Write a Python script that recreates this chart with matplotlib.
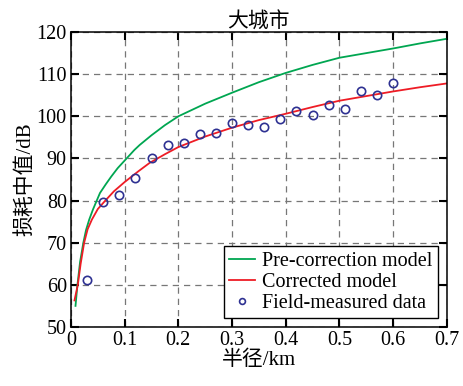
import numpy as np
import matplotlib
matplotlib.use("Agg")
import matplotlib.pyplot as plt

plt.rcParams['font.family'] = ['Liberation Serif', 'Noto Sans CJK SC', 'DejaVu Sans']

# measured points
meas_x = [0.03, 0.06, 0.09, 0.12, 0.15, 0.18, 0.21, 0.24, 0.27, 0.30,
          0.33, 0.36, 0.39, 0.42, 0.45, 0.48, 0.51, 0.54, 0.57, 0.60]
meas_y = [61.1, 79.7, 81.2, 85.4, 90.0, 93.3, 93.6, 95.7, 96.0, 98.3,
          98.0, 97.4, 99.4, 101.3, 100.4, 102.7, 101.7, 105.9, 105.0, 107.8]

# pre-correction model
pre_x = [0.0084, 0.012, 0.017, 0.023, 0.028, 0.034, 0.041, 0.048, 0.054, 0.065,
         0.075, 0.087, 0.1, 0.118, 0.128, 0.15, 0.175, 0.2, 0.25, 0.3, 0.35,
         0.4, 0.45, 0.5, 0.55, 0.6, 0.65, 0.7]
pre_y = [55.0, 60.0, 65.5, 70.0, 73.0, 75.5, 77.9, 80.0, 81.8, 83.9,
         85.7, 87.7, 89.5, 92.0, 93.2, 95.5, 97.9, 100.0, 103.0, 105.6, 108.1,
         110.3, 112.2, 113.9, 115.0, 116.1, 117.3, 118.4]

# corrected model
cor_x = [0.0065, 0.0127, 0.018, 0.0245, 0.031, 0.039, 0.05, 0.064, 0.08, 0.1,
         0.125, 0.146, 0.175, 0.2, 0.25, 0.3, 0.35, 0.4, 0.45, 0.5, 0.55,
         0.6, 0.65, 0.7]
cor_y = [56.3, 60.0, 65.0, 70.0, 73.2, 75.5, 78.0, 80.0, 82.2, 84.4,
         86.9, 88.9, 91.0, 92.7, 95.2, 97.3, 99.1, 100.6, 102.2, 103.7, 104.8,
         105.9, 106.9, 107.8]

fig = plt.figure(figsize=(4.64, 3.86), dpi=100)
ax = fig.add_axes([0.153, 0.153, 0.81, 0.764])

ax.plot(pre_x, pre_y, color="#00a651", lw=1.3, label="Pre-correction model")
ax.plot(cor_x, cor_y, color="#ee1c25", lw=1.3, label="Corrected model")
ax.plot(meas_x, meas_y, "o", mfc="none", mec="#2e3192", ms=6, mew=1.2,
        label="Field-measured data")

ax.set_xlim(0, 0.7)
ax.set_ylim(50, 120)
ax.set_xticks(np.arange(0, 0.71, 0.1))
ax.set_xticklabels(["0", "0.1", "0.2", "0.3", "0.4", "0.5", "0.6", "0.7"])
ax.set_yticks(range(50, 121, 10))
ax.grid(True, ls=(0, (5, 4)), color="#777777", lw=0.9)
ax.tick_params(direction="in", length=6, width=1.5, labelsize=14.5,
               top=True, right=True, pad=3)
for s in ax.spines.values():
    s.set_linewidth(1.1)

ax.set_title("大城市", fontsize=15, pad=3)
ax.set_xlabel("半径/km", fontsize=15, labelpad=0)
ax.set_ylabel("损耗中值/dB", fontsize=15, labelpad=1)

leg = ax.legend(loc="lower right", fontsize=14.5, fancybox=False, framealpha=1,
                edgecolor="black", borderpad=0.25, labelspacing=0.1,
                handlelength=1.3, handletextpad=0.35, borderaxespad=0.45,
                markerscale=0.7)
leg.get_frame().set_linewidth(1.0)

fig.savefig("out.png", dpi=100)
